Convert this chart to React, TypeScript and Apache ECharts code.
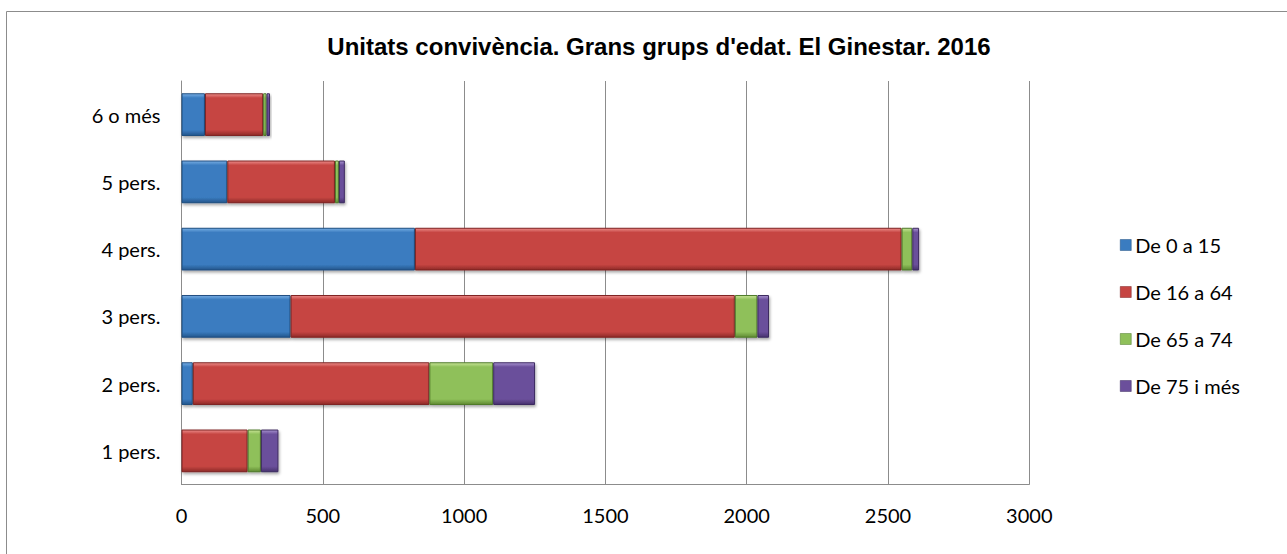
import React, { useEffect, useRef } from "react";
import * as echarts from "echarts";

const categories = ["1 pers.", "2 pers.", "3 pers.", "4 pers.", "5 pers.", "6 o més"];
const seriesNames = ["De 0 a 15", "De 16 a 64", "De 65 a 74", "De 75 i més"];
const age0to15 = [0, 40, 386, 826, 162, 83];
const age16to64 = [234, 837, 1572, 1722, 381, 206];
const age65to74 = [47, 226, 80, 38, 14, 12];
const age75plus = [62, 148, 41, 24, 21, 12];
const xTicks = { min: 0, max: 3000, interval: 500 };
const titleText = "Unitats convivència. Grans grups d'edat. El Ginestar. 2016";

const palette = [
  { light: "#78AEE4", base: "#3A7CC0", dark: "#24568C", border: "#1F4E80" },
  { light: "#EC8C8A", base: "#C64542", dark: "#8E2A28", border: "#7E2321" },
  { light: "#C8E496", base: "#8FC05A", dark: "#5F8A33", border: "#4F7A2A" },
  { light: "#A893D0", base: "#6B4F9B", dark: "#47326E", border: "#3C2A60" },
];

function grad(p: { light: string; base: string; dark: string }) {
  return new echarts.graphic.LinearGradient(0, 0, 0, 1, [
    { offset: 0, color: p.light },
    { offset: 0.1, color: p.base },
    { offset: 0.87, color: p.base },
    { offset: 1, color: p.dark },
  ]);
}

const labelFont = "Lato, 'Open Sans', sans-serif";

export default function App() {
  const ref = useRef<HTMLDivElement>(null);
  useEffect(() => {
    if (!ref.current) return;
    const chart = echarts.init(ref.current, null, { renderer: "svg" });
    const data = [age0to15, age16to64, age65to74, age75plus];
    chart.setOption({
      animation: false,
      backgroundColor: "#ffffff",
      title: {
        text: titleText,
        left: 659,
        textAlign: "center",
        top: 34,
        padding: 0,
        textStyle: {
          fontFamily: "'Liberation Sans', Arial, sans-serif",
          fontWeight: "bold",
          fontSize: 24,
          color: "#000",
        },
      },
      graphic: [
        {
          type: "rect",
          shape: { x: 6.5, y: 11.5, width: 1400, height: 700 },
          style: { fill: "none", stroke: "#8c8c8c", lineWidth: 1 },
          silent: true,
        },
      ],
      legend: {
        orient: "vertical",
        left: 1120,
        top: 235,
        padding: 0,
        itemWidth: 11,
        itemHeight: 11,
        itemGap: 27,
        icon: "rect",
        data: seriesNames.map((n, i) => ({
          name: n,
          itemStyle: { color: palette[i].base, borderColor: palette[i].border, borderWidth: 0.5 },
        })),
        textStyle: { fontFamily: labelFont, fontSize: 20, color: "#000", padding: [0, 0, 0, -1] },
      },
      grid: { left: 181.5, right: 257.7, top: 81, bottom: 69.5 },
      xAxis: {
        type: "value",
        min: xTicks.min,
        max: xTicks.max,
        interval: xTicks.interval,
        axisLine: { show: true, lineStyle: { color: "#8c8c8c", width: 1 } },
        axisTick: { show: false },
        splitLine: { show: true, lineStyle: { color: "#8c8c8c", width: 1 } },
        axisLabel: {
          fontFamily: labelFont,
          fontSize: 20,
          color: "#000",
          margin: 20,
          formatter: (v: number) => String(v),
        },
      },
      yAxis: {
        type: "category",
        data: categories,
        axisLine: { show: true, lineStyle: { color: "#8c8c8c", width: 1 } },
        axisTick: { show: false },
        axisLabel: { fontFamily: labelFont, fontSize: 20, color: "#000", margin: 21 },
      },
      series: seriesNames.map((n, i) => ({
        name: n,
        type: "bar",
        stack: "total",
        barCategoryGap: "36.5%",
        data: data[i],
        itemStyle: {
          color: grad(palette[i]),
          borderColor: palette[i].border,
          borderWidth: 1,
          shadowColor: "rgba(0,0,0,0.35)",
          shadowBlur: 3,
          shadowOffsetX: 1,
          shadowOffsetY: 2,
        },
      })),
    });
    return () => chart.dispose();
  }, []);
  return (
    <div
      ref={ref}
      style={{ position: "fixed", left: 0, top: 0, width: 1287, height: 554 }}
    />
  );
}
